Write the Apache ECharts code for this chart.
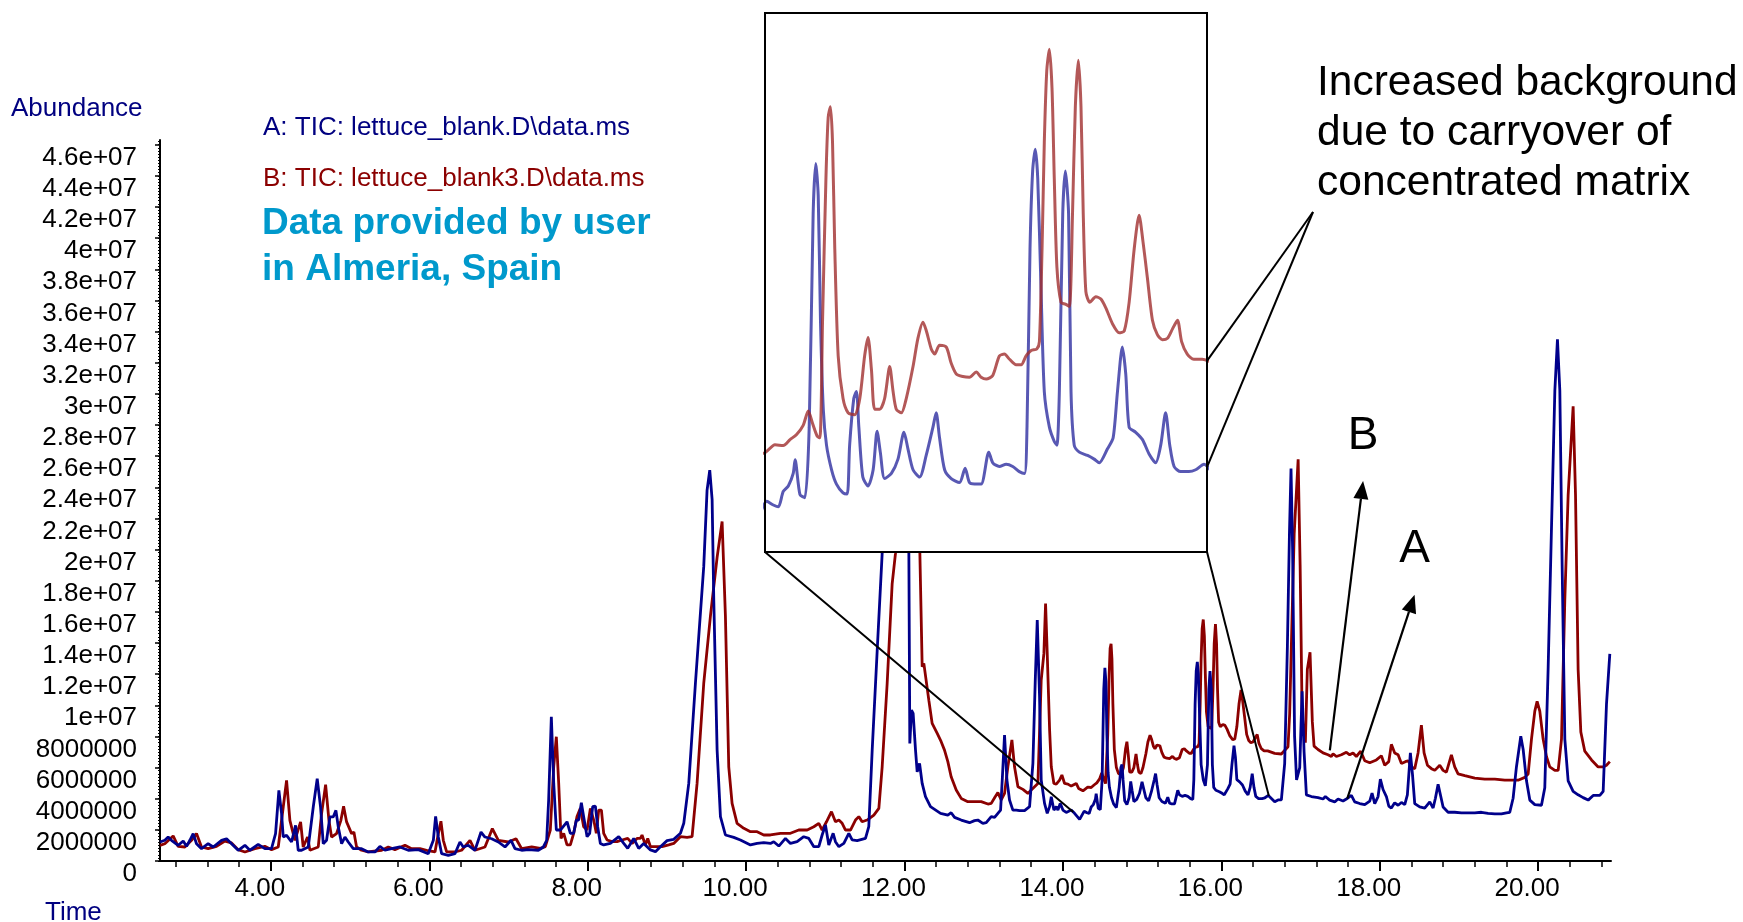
<!DOCTYPE html>
<html>
<head>
<meta charset="utf-8">
<script src="https://cdn.jsdelivr.net/npm/echarts@6/dist/echarts.min.js"></script>
<style>
html,body{margin:0;padding:0;background:#fff;}
#chart{width:1743px;height:922px;}
</style>
</head>
<body>
<div id="chart"></div>
<script>
// ---------- DATA (abundance in millions, time in minutes) ----------
const timeA = [2.6,2.661,2.703,2.745,2.829,2.893,2.935,2.977,3.019,3.061,3.124,3.208,3.272,3.377,3.44,3.503,3.587,3.672,3.735,3.84,3.924,4.008,4.059,4.101,4.135,4.156,4.198,4.261,4.312,4.345,4.387,4.472,4.535,4.585,4.627,4.661,4.703,4.745,4.787,4.821,4.851,4.893,4.935,4.977,5.04,5.145,5.229,5.314,5.377,5.44,5.524,5.629,5.735,5.861,5.987,6.051,6.08,6.114,6.156,6.24,6.324,6.387,6.429,6.493,6.577,6.653,6.703,6.787,6.872,6.956,7.032,7.082,7.166,7.251,7.377,7.44,7.482,7.507,7.541,7.571,7.604,7.655,7.739,7.781,7.823,7.857,7.886,7.92,7.949,7.992,8.025,8.063,8.097,8.126,8.16,8.202,8.286,8.392,8.455,8.505,8.581,8.644,8.707,8.792,8.855,8.918,9.002,9.086,9.171,9.213,9.276,9.36,9.465,9.507,9.541,9.571,9.592,9.634,9.676,9.739,9.844,9.928,10.055,10.139,10.223,10.307,10.349,10.413,10.497,10.56,10.644,10.728,10.792,10.855,10.918,10.96,11.002,11.044,11.099,11.128,11.171,11.234,11.297,11.339,11.402,11.507,11.549,11.592,11.655,11.718,11.8,11.9,12.0,12.055,12.067,12.088,12.109,12.139,12.16,12.19,12.223,12.265,12.328,12.455,12.547,12.589,12.632,12.716,12.821,12.884,12.926,12.989,13.032,13.095,13.137,13.179,13.213,13.234,13.263,13.293,13.326,13.368,13.411,13.453,13.516,13.579,13.621,13.651,13.676,13.705,13.726,13.768,13.802,13.832,13.853,13.886,13.916,13.937,13.966,14.0,14.042,14.105,14.147,14.211,14.269,14.304,14.331,14.357,14.384,14.41,14.42,14.446,14.472,14.495,14.516,14.53,14.543,14.555,14.57,14.587,14.614,14.64,14.675,14.697,14.71,14.732,14.746,14.759,14.78,14.808,14.835,14.856,14.873,14.896,14.932,14.967,14.999,15.02,15.047,15.082,15.117,15.153,15.17,15.188,15.215,15.25,15.294,15.324,15.347,15.374,15.409,15.45,15.471,15.506,15.542,15.577,15.612,15.64,15.653,15.669,15.683,15.697,15.71,15.727,15.745,15.772,15.798,15.812,15.825,15.843,15.857,15.874,15.887,15.904,15.931,15.975,16.01,16.037,16.081,16.111,16.134,16.16,16.178,16.196,16.231,16.267,16.302,16.337,16.364,16.39,16.412,16.435,16.47,16.514,16.55,16.594,16.674,16.716,16.758,16.8,16.834,16.86,16.88,16.9,16.925,16.95,16.99,17.005,17.02,17.045,17.074,17.137,17.221,17.284,17.314,17.368,17.432,17.474,17.537,17.579,17.642,17.684,17.747,17.811,17.874,17.903,17.937,17.979,18.008,18.042,18.084,18.114,18.147,18.189,18.232,18.274,18.316,18.349,18.387,18.413,18.442,18.505,18.568,18.632,18.674,18.703,18.737,18.771,18.8,18.863,18.947,19.032,19.116,19.2,19.284,19.368,19.453,19.537,19.6,19.642,19.684,19.726,19.781,19.811,19.853,19.895,19.958,20.042,20.084,20.126,20.168,20.211,20.244,20.274,20.303,20.337,20.379,20.442,20.505,20.568,20.632,20.695,20.779,20.821,20.863,20.905];
const abundanceA = [1.22,1.33,1.54,1.33,1.01,1.28,0.94,1.33,1.76,1.11,0.79,1.11,0.90,1.33,1.43,1.11,0.69,1.01,0.69,1.07,0.79,0.79,1.76,4.54,3.04,1.54,1.65,1.22,2.29,0.69,0.69,0.90,3.47,5.29,3.47,1.11,1.33,2.83,2.83,3.25,2.18,1.11,1.54,1.22,0.79,0.79,0.58,0.58,0.94,0.69,0.79,0.90,0.69,0.73,0.47,1.33,2.87,1.54,0.47,0.36,0.47,1.22,0.90,1.01,0.69,1.86,1.54,1.43,1.22,0.90,1.33,0.79,0.69,0.73,0.69,0.90,1.33,3.92,9.26,4.98,1.99,1.99,2.52,1.78,1.78,2.63,2.63,3.74,2.85,1.56,1.78,3.49,3.53,2.2,1.13,1.03,1.13,1.56,1.13,0.81,1.45,0.81,1.13,0.71,0.6,0.92,1.31,1.39,1.78,2.42,4.98,11.4,18.9,23.8,25.1,23.2,16.75,7.12,2.85,1.67,1.52,1.35,1.03,1.13,1.18,1.13,1.24,0.96,1.45,1.13,1.24,1.56,1.45,0.92,0.92,1.67,2.31,1.03,1.78,1.24,0.92,1.13,1.78,1.35,1.31,1.45,2.2,7.12,13.5,19.75,30,33,28,19.75,7.55,9.69,9.48,7.12,5.73,6.27,4.98,4.13,3.49,3.06,2.95,3.1,2.8,2.63,2.46,2.59,2.63,2.42,2.46,2.85,2.8,3.06,3.27,5.2,8.09,5.2,3.92,3.27,3.27,3.23,3.23,3.49,6.27,11.62,15.47,10.55,5.2,3.7,3.06,3.49,4.13,3.27,3.49,3.27,3.7,3.27,3.12,3.27,3.06,2.67,3.2,3.1,3.05,3.47,3.62,3.96,4.33,3.38,3.30,5.22,11.04,12.40,11.52,8.12,5.70,4.73,4.06,3.67,3.43,3.40,4.73,6.0,6.19,5.22,3.86,3.62,4.06,5.11,4.54,3.82,3.96,4.35,5.08,4.63,4.06,3.86,4.45,5.22,5.61,4.93,4.06,3.82,3.71,4.10,3.71,3.67,3.67,4.54,4.25,4.15,4.21,4.15,4.01,3.96,5.22,10.08,12.20,12.79,12.0,9.10,6.19,5.22,4.83,4.73,6.19,11.04,12.20,11.04,6.19,4.73,4.54,4.45,4.35,4.25,4.63,4.93,6.19,7.40,6.67,5.22,5.08,4.88,4.49,4.25,4.73,5.61,4.73,4.15,4.01,4.01,4.06,4.21,3.81,3.92,3.92,6.27,13.76,21,25.2,20,8,5.2,6.0,8.5,10.9,7.0,4.25,4.14,4.07,3.98,4.14,3.91,3.80,3.98,3.85,3.98,4.21,3.80,3.69,3.62,3.85,4.36,3.69,4.14,5.26,4.59,4.14,3.53,3.40,3.74,3.58,3.76,3.62,4.25,6.94,5.59,3.69,3.47,3.40,3.80,3.40,4.03,4.92,4.14,3.47,3.13,3.13,3.09,3.09,3.09,3.13,3.06,3.02,3.02,3.09,3.13,4.03,6.04,8.01,7.16,5.15,3.91,3.62,3.58,4.70,12.3,21.25,30.2,33.5,30.2,19.0,7.83,5.15,4.47,4.25,4.07,3.91,4.21,4.21,4.47,10.07,13.3];

const timeB = [2.6,2.661,2.766,2.829,2.914,2.998,3.061,3.124,3.208,3.314,3.419,3.503,3.587,3.672,3.798,3.924,4.008,4.093,4.156,4.198,4.24,4.303,4.375,4.408,4.463,4.493,4.598,4.64,4.691,4.733,4.766,4.829,4.884,4.918,4.956,5.019,5.048,5.082,5.145,5.229,5.398,5.482,5.566,5.693,5.777,5.882,5.966,6.072,6.114,6.147,6.177,6.219,6.324,6.408,6.514,6.577,6.703,6.796,6.872,6.998,7.095,7.166,7.293,7.402,7.465,7.528,7.571,7.604,7.634,7.663,7.697,7.739,7.781,7.823,7.865,7.907,7.949,7.992,8.034,8.076,8.109,8.139,8.173,8.202,8.244,8.307,8.371,8.434,8.505,8.56,8.623,8.665,8.686,8.728,8.758,8.792,8.855,8.939,9.023,9.086,9.171,9.255,9.318,9.381,9.465,9.549,9.634,9.697,9.739,9.781,9.823,9.886,9.971,10.055,10.139,10.223,10.307,10.434,10.56,10.665,10.771,10.855,10.918,10.96,11.015,11.078,11.128,11.171,11.213,11.255,11.318,11.381,11.423,11.465,11.528,11.613,11.676,11.718,11.781,11.844,11.886,11.98,12.06,12.15,12.194,12.223,12.244,12.265,12.307,12.349,12.413,12.463,12.505,12.547,12.589,12.653,12.716,12.8,12.884,12.968,13.053,13.095,13.145,13.179,13.221,13.263,13.305,13.356,13.389,13.432,13.495,13.558,13.6,13.642,13.684,13.726,13.76,13.781,13.802,13.832,13.853,13.886,13.916,13.958,13.987,14.021,14.063,14.105,14.168,14.198,14.253,14.313,14.357,14.393,14.428,14.463,14.49,14.513,14.538,14.552,14.566,14.584,14.596,14.608,14.619,14.631,14.649,14.675,14.702,14.737,14.764,14.79,14.808,14.826,14.843,14.87,14.896,14.923,14.941,14.958,14.985,15.011,15.047,15.073,15.1,15.118,15.144,15.162,15.188,15.224,15.25,15.277,15.312,15.347,15.383,15.409,15.436,15.471,15.506,15.533,15.56,15.595,15.622,15.648,15.675,15.705,15.719,15.733,15.745,15.758,15.772,15.786,15.798,15.812,15.834,15.857,15.878,15.895,15.91,15.926,15.94,15.952,15.966,15.987,16.019,16.046,16.072,16.108,16.143,16.17,16.196,16.223,16.249,16.27,16.293,16.32,16.346,16.373,16.4,16.426,16.453,16.475,16.505,16.54,16.585,16.674,16.758,16.842,16.863,16.884,16.92,16.97,16.995,17.02,17.03,17.061,17.086,17.12,17.149,17.171,17.221,17.284,17.347,17.389,17.411,17.453,17.516,17.579,17.621,17.663,17.705,17.76,17.811,17.874,17.958,18.021,18.063,18.114,18.147,18.189,18.232,18.274,18.324,18.358,18.4,18.442,18.484,18.526,18.56,18.602,18.653,18.695,18.758,18.8,18.842,18.905,18.947,18.989,19.074,19.2,19.326,19.453,19.579,19.684,19.747,19.832,19.874,19.916,19.958,19.987,20.021,20.063,20.105,20.147,20.211,20.253,20.295,20.337,20.379,20.442,20.472,20.505,20.539,20.589,20.674,20.758,20.821,20.863,20.905];
const abundanceB = [1.0,1.11,1.61,0.94,0.90,1.33,1.76,0.90,0.79,0.94,1.28,1.16,0.73,0.58,0.79,0.94,0.73,0.90,3.47,5.18,2.61,1.33,2.51,0.90,1.54,0.69,0.90,3.04,4.90,2.61,1.54,1.76,2.61,3.51,2.51,1.76,1.86,0.90,0.69,0.58,0.69,0.90,0.73,1.01,0.79,0.79,0.69,0.58,1.76,2.55,1.33,0.58,0.58,0.69,1.33,0.69,0.90,2.08,1.33,1.22,1.43,0.79,0.90,0.81,0.92,1.99,6.05,7.98,4.98,1.45,1.78,1.03,1.03,1.78,2.85,3.38,2.2,1.99,3.38,2.63,1.78,3.27,3.27,1.78,1.35,1.24,1.24,1.35,1.45,1.13,1.45,1.45,1.67,1.03,1.45,0.92,0.92,0.92,1.03,1.13,1.56,1.52,1.56,4.98,11.4,15.7,19.5,21.8,15.7,6.05,3.7,2.42,2.1,1.88,1.88,1.67,1.67,1.78,1.78,1.99,1.99,2.2,2.42,1.99,2.52,3.17,2.52,2.63,2.42,1.99,1.99,2.63,2.85,2.52,2.63,2.95,3.38,6.05,11.4,17.8,19.75,29,31,26,19.75,12.47,12.69,12.69,10.33,8.84,8.19,7.66,7.12,6.38,5.41,4.56,4.02,3.81,3.81,3.81,3.66,3.7,4.13,4.39,3.92,4.34,6.05,7.77,6.05,4.77,4.6,4.34,4.56,4.77,4.98,11.62,13.33,16.54,13.33,8.41,6.05,4.98,4.94,5.2,5.52,4.98,4.94,4.81,4.98,4.66,4.51,4.74,4.72,4.88,5.02,5.27,5.66,5.32,4.97,4.93,8.12,12.0,13.66,13.95,12.98,10.08,7.17,6.0,5.61,5.56,6.0,7.17,7.66,6.78,5.71,5.71,6.0,6.87,6.19,5.71,5.61,6.0,6.87,7.64,8.08,7.84,7.35,7.21,7.45,7.40,6.96,6.67,6.60,6.58,6.72,6.58,6.53,6.63,7.16,7.21,7.07,6.92,6.92,7.16,7.31,7.35,7.55,10.08,12.98,14.92,15.51,14.44,12.0,9.58,8.62,8.57,8.51,11.04,13.95,15.21,13.95,11.04,8.91,8.62,8.77,8.71,8.47,8.03,7.79,7.84,8.62,10.08,10.99,10.26,9.29,8.13,7.74,7.60,7.64,7.89,8.13,7.55,7.21,7.07,7.07,6.91,6.87,7.34,9.48,13.76,21,25.8,19,9.5,8.84,7.6,12.3,13.4,8.95,7.38,7.16,6.94,6.82,6.71,6.89,6.71,6.82,6.98,6.82,6.94,6.71,7.05,6.44,6.31,6.49,6.76,6.15,6.38,7.49,6.94,6.82,6.26,6.38,6.44,6.04,5.93,6.94,8.72,6.94,6.15,5.93,5.82,6.15,5.82,5.7,6.82,6.04,5.59,5.48,5.32,5.26,5.26,5.19,5.19,5.19,5.37,5.59,7.83,9.62,10.25,9.62,7.83,6.71,6.04,5.82,5.82,7.83,16.8,23.5,29.2,23.5,12.3,8.28,7.05,6.49,6.04,6.04,6.15,6.38];

const xTickValues = [4, 6, 8, 10, 12, 14, 16, 18, 20];
const xTickLabels = ['4.00', '6.00', '8.00', '10.00', '12.00', '14.00', '16.00', '18.00', '20.00'];
const yTickValues = [0,2,4,6,8,10,12,14,16,18,20,22,24,26,28,30,32,34,36,38,40,42,44,46];
const yTickLabels = ['0','2000000','4000000','6000000','8000000','1e+07','1.2e+07','1.4e+07','1.6e+07','1.8e+07','2e+07','2.2e+07','2.4e+07','2.6e+07','2.8e+07','3e+07','3.2e+07','3.4e+07','3.6e+07','3.8e+07','4e+07','4.2e+07','4.4e+07','4.6e+07'];

const seriesNames = ['A: TIC: lettuce_blank.D\\data.ms', 'B: TIC: lettuce_blank3.D\\data.ms'];
const noteLines = ['Increased background', 'due to carryover of', 'concentrated matrix'];
const creditLines = ['Data provided by user', 'in Almeria, Spain'];
// zoomed inset range (time, abundance) and the main-chart span it magnifies
const insetTime = [14.26, 16.61];
const insetAbundance = [1.82, 16.5];
const insetSpan = [14.13, 16.6];
// arrow annotations: [start on trace, arrow tip, label position]
const arrowB = { label: 'B', from: [17.37, 7.1], to: [17.79, 24.4], text: [17.79, 27.3] };
const arrowA = { label: 'A', from: [17.59, 4.0], to: [18.44, 17.1], text: [18.44, 20.0] };

// ---------- helpers ----------
const FONT = "'Liberation Sans', Arial, Helvetica, sans-serif";
const BLUE = '#00008b', RED = '#8b0000';
const pairs = (t, v) => t.map((x, i) => [x, v[i]]);
function interp(t, v, x) {
  for (let i = 1; i < t.length; i++) {
    if (t[i] >= x) { const f = (x - t[i-1]) / (t[i] - t[i-1]); return v[i-1] + f * (v[i] - v[i-1]); }
  }
  return v[v.length - 1];
}
const xMinor = []; for (let k = 7; k <= 52; k++) xMinor.push(+(k * 0.4).toFixed(1));
const yMinor = []; for (let k = 0; k <= 231; k++) yMinor.push(+(k * 0.2).toFixed(1));
const lab = (vals, labels) => v => { const i = vals.findIndex(x => Math.abs(x - v) < 1e-6); return i < 0 ? '' : labels[i]; };

const MAIN = { left: 160, top: 140, width: 1451, height: 721 };
const INSET = { left: 765, top: 13, width: 442, height: 539 };

const chart = echarts.init(document.getElementById('chart'), null, { renderer: 'canvas' });
chart.setOption({
  animation: false,
  backgroundColor: '#fff',
  textStyle: { fontFamily: FONT },
  grid: [
    Object.assign({ show: false }, MAIN),
    Object.assign({ show: false }, INSET)
  ],
  xAxis: [
    { type: 'value', gridIndex: 0, position: 'bottom', min: 2.6, max: 20.92,
      axisLine: { show: true, lineStyle: { color: '#000', width: 2 } },
      axisTick: { show: true, customValues: xMinor, length: 6, lineStyle: { color: '#000', width: 1.5 } },
      axisLabel: { show: true, customValues: xTickValues, formatter: lab(xTickValues, xTickLabels),
        fontSize: 26, color: '#000', fontFamily: FONT, margin: 15, padding: [0, 22, 0, 0] },
      splitLine: { show: false } },
    { type: 'value', gridIndex: 0, position: 'bottom', min: 2.6, max: 20.92,
      axisLine: { show: false },
      axisTick: { show: true, customValues: xTickValues, length: 10, lineStyle: { color: '#000', width: 2 } },
      axisLabel: { show: false }, splitLine: { show: false } },
    { type: 'value', gridIndex: 1, min: insetTime[0], max: insetTime[1], show: false }
  ],
  yAxis: [
    { type: 'value', gridIndex: 0, position: 'left', min: 0, max: 46.3,
      axisLine: { show: true, lineStyle: { color: '#000', width: 2 } },
      axisTick: { show: true, customValues: yMinor, length: 2, lineStyle: { color: '#000', width: 1 } },
      axisLabel: { show: true, customValues: yTickValues, formatter: lab(yTickValues, yTickLabels),
        fontSize: 26, color: '#000', fontFamily: FONT, margin: 23, verticalAlign: 'top', lineHeight: 26 },
      splitLine: { show: false } },
    { type: 'value', gridIndex: 0, position: 'left', min: 0, max: 46.3,
      axisLine: { show: false },
      axisTick: { show: true, customValues: yTickValues, length: 5, lineStyle: { color: '#000', width: 1.5 } },
      axisLabel: { show: false }, splitLine: { show: false } },
    { type: 'value', gridIndex: 1, min: insetAbundance[0], max: insetAbundance[1], show: false }
  ],
  series: [
    { name: seriesNames[1], type: 'line', xAxisIndex: 0, yAxisIndex: 0, data: pairs(timeB, abundanceB),
      showSymbol: false, symbol: 'none', z: 2, lineStyle: { color: RED, width: 2.8 } },
    { name: seriesNames[0], type: 'line', xAxisIndex: 0, yAxisIndex: 0, data: pairs(timeA, abundanceA),
      showSymbol: false, symbol: 'none', z: 3, lineStyle: { color: BLUE, width: 2.8 } },
    { name: 'inset ' + seriesNames[0], type: 'line', xAxisIndex: 2, yAxisIndex: 2, data: pairs(timeA, abundanceA),
      showSymbol: false, symbol: 'none', z: 20, clip: true, smooth: 0.25,
      lineStyle: { color: '#2e2ea0', width: 3, opacity: 0.8 } },
    { name: 'inset ' + seriesNames[1], type: 'line', xAxisIndex: 2, yAxisIndex: 2, data: pairs(timeB, abundanceB),
      showSymbol: false, symbol: 'none', z: 20, clip: true, smooth: 0.25,
      lineStyle: { color: '#a02e2e', width: 3, opacity: 0.8 } }
  ]
});

// ---------- annotations (positions derived through the chart's own scales) ----------
const P = (x, y) => chart.convertToPixel({ xAxisIndex: 0, yAxisIndex: 0 }, [x, y]);
const Q = (x, y) => chart.convertToPixel({ xAxisIndex: 2, yAxisIndex: 2 }, [x, y]);
const g = [];
const txt = (text, x, y, font, fill, align) => g.push({ type: 'text', z: 40, silent: true,
  style: { text, x, y, font, fill, textAlign: align || 'left', textVerticalAlign: 'middle' } });
const line = (a, b, w) => g.push({ type: 'line', z: 35, silent: true,
  shape: { x1: a[0], y1: a[1], x2: b[0], y2: b[1] }, style: { stroke: '#000', lineWidth: w || 2 } });

// inset box (white backdrop over main traces)
g.push({ type: 'rect', z: 10, silent: true, shape: { x: INSET.left, y: INSET.top, width: INSET.width, height: INSET.height },
  style: { fill: '#fff', stroke: 'none' } });
g.push({ type: 'rect', z: 30, silent: true, shape: { x: INSET.left, y: INSET.top, width: INSET.width, height: INSET.height },
  style: { fill: 'none', stroke: '#000', lineWidth: 2 } });
// callouts from inset corners to magnified span on trace A
line([INSET.left, INSET.top + INSET.height], P(insetSpan[0], interp(timeA, abundanceA, insetSpan[0])));
line([INSET.left + INSET.width, INSET.top + INSET.height], P(insetSpan[1], interp(timeA, abundanceA, insetSpan[1])));
// note lines to inset traces' right ends
const noteAnchor = [1313, 212];
line(noteAnchor, Q(insetTime[1], interp(timeB, abundanceB, insetTime[1])));
line(noteAnchor, Q(insetTime[1], interp(timeA, abundanceA, insetTime[1])));

// arrows
[arrowB, arrowA].forEach(a => {
  const p0 = P(a.from[0], a.from[1]), p1 = P(a.to[0], a.to[1]);
  const dx = p1[0] - p0[0], dy = p1[1] - p0[1], L = Math.hypot(dx, dy);
  const ux = dx / L, uy = dy / L, hl = 18, hw = 7.5;
  const base = [p1[0] - ux * hl, p1[1] - uy * hl];
  line(p0, base, 2.2);
  g.push({ type: 'polygon', z: 36, silent: true,
    shape: { points: [p1, [base[0] - uy * hw, base[1] + ux * hw], [base[0] + uy * hw, base[1] - ux * hw]] },
    style: { fill: '#000' } });
  const tp = P(a.text[0], a.text[1]);
  txt(a.label, tp[0], tp[1], '46px ' + FONT, '#000', 'center');
});

// texts
txt('Abundance', 11, 109, '26px ' + FONT, '#000080');
txt('Time', 45, 913, '26px ' + FONT, '#000080');
txt(seriesNames[0], 263, 128, '26px ' + FONT, '#000080');
txt(seriesNames[1], 263, 179, '26px ' + FONT, '#8b0000');
txt(creditLines[0], 262, 224, 'bold 37px ' + FONT, '#0099cc');
txt(creditLines[1], 262, 270, 'bold 37px ' + FONT, '#0099cc');
noteLines.forEach((s, i) => txt(s, 1317, 83 + i * 50, '42.5px ' + FONT, '#000'));

chart.setOption({ graphic: { elements: g } });
</script>
</body>
</html>
